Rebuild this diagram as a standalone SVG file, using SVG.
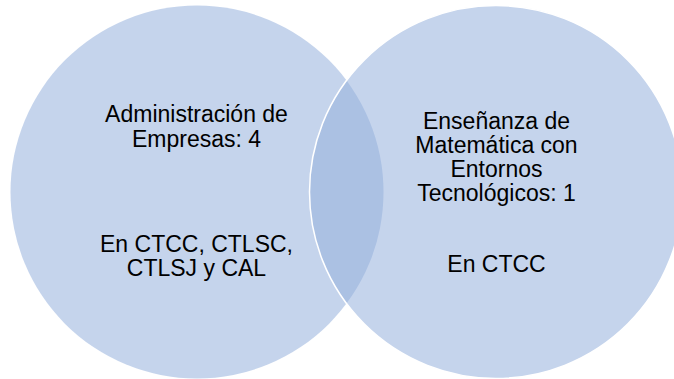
<svg xmlns="http://www.w3.org/2000/svg" width="674" height="379" viewBox="0 0 674 379">
<style>
.c{fill:#96B1DD;fill-opacity:0.55}
.r{stroke:#FFFFFF;stroke-width:1.5}
.t{font-family:"Liberation Sans",Arial,sans-serif;font-size:23px;fill:#000000;text-anchor:middle}
</style>
<rect width="674" height="379" fill="#FFFFFF"/>
<g id="connectors"></g>
<g id="node-left">
<circle class="c" cx="197" cy="192" r="186.5"/>
<text class="t" x="196.5" y="122">Administración de</text>
<text class="t" x="196.5" y="147">Empresas: 4</text>
<text class="t" x="196.5" y="252">En CTCC, CTLSC,</text>
<text class="t" x="196.5" y="275.5">CTLSJ y CAL</text>
</g>
<g id="node-right">
<circle class="c r" cx="496" cy="192" r="186.5"/>
<text class="t" x="496.5" y="128.5">Enseñanza de</text>
<text class="t" x="496.5" y="152.5">Matemática con</text>
<text class="t" x="496.5" y="177">Entornos</text>
<text class="t" x="496.5" y="201">Tecnológicos: 1</text>
<text class="t" x="496.5" y="271.5">En CTCC</text>
</g>
</svg>
